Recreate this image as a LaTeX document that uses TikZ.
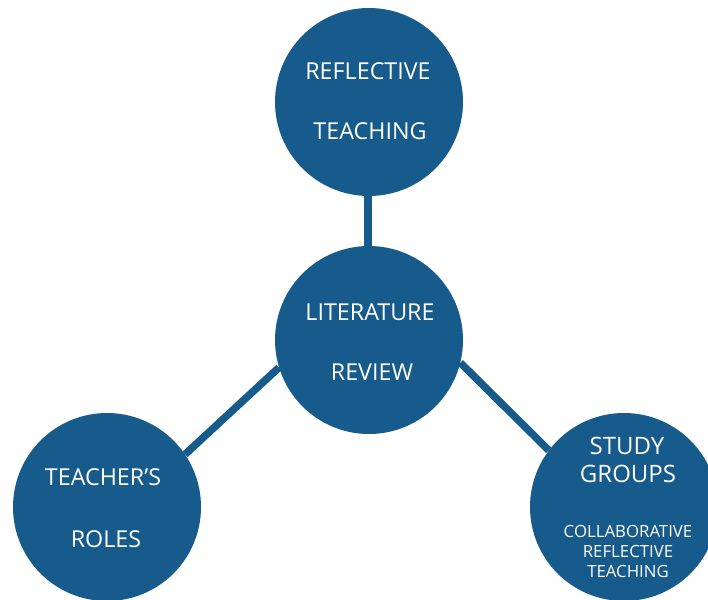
\documentclass[tikz,border=0pt]{standalone}
\usepackage{fontspec}
\setmainfont{Open Sans}
\usetikzlibrary{backgrounds}
\definecolor{nodeblue}{RGB}{23,90,140}
\tikzset{
  bubble/.style={circle,fill=nodeblue,draw=none,minimum size=188pt,inner sep=0pt},
  link/.style={draw=nodeblue,line width=7.5pt},
  lbl/.style={text=white,anchor=base,inner sep=0pt,font=\fontsize{23.3}{27}\selectfont},
  biglbl/.style={text=white,anchor=base,inner sep=0pt,font=\fontsize{24}{28}\selectfont},
  smalllbl/.style={text=white,anchor=base,inner sep=0pt,font=\fontsize{16.8}{19}\selectfont}
}
\begin{document}
\begin{tikzpicture}[x=1pt,y=-1pt]
\useasboundingbox (0,0) rectangle (708,599);
\clip (0,0) rectangle (708,599);
% circles
\node[bubble] (top) at (369,102) {};
\node[bubble] (mid) at (369,340) {};
\node[bubble] (left) at (107,507) {};
\node[bubble] (right) at (624,507) {};
% connectors, behind the circles
\begin{scope}[on background layer]
\draw[link] ([xshift=-1pt]top.center) -- ([xshift=-1pt]mid.center);
\draw[link] (mid.197) -- (left.34);
\draw[link] (mid.346) -- (right.143);
\end{scope}
% labels
\node[lbl] (t1) at (368,80) {REFLECTIVE};
\node[lbl] (t2) at (370,139) {TEACHING};
\node[lbl] (m1) at (370,320) {LITERATURE};
\node[lbl] (m2) at (372,380) {REVIEW};
\node[lbl] (l1) at (103,485) {TEACHER’S};
\node[lbl] (l2) at (106,547) {ROLES};
\node[biglbl] (r1) at (627,454) {STUDY};
\node[biglbl] (r2) at (628,482) {GROUPS};
\node[smalllbl] (r3) at (628,537) {COLLABORATIVE};
\node[smalllbl] (r4) at (628,557) {REFLECTIVE};
\node[smalllbl] (r5) at (628,577) {TEACHING};
\end{tikzpicture}
\end{document}
